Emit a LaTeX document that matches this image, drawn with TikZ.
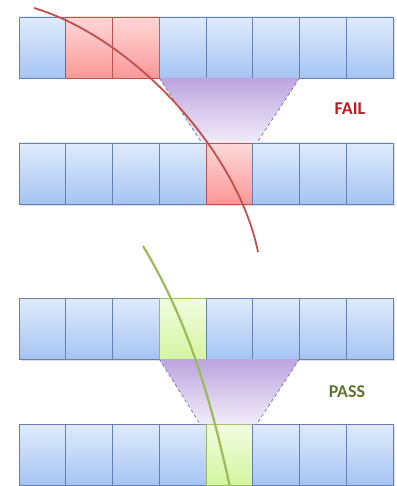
\documentclass[tikz,border=0pt]{standalone}
\usepackage{fontspec}
\setmainfont{Carlito}
\definecolor{bluetop}{RGB}{224,235,252}
\definecolor{bluebot}{RGB}{166,196,242}
\definecolor{blueborder}{RGB}{100,128,180}
\definecolor{redtop}{RGB}{254,216,216}
\definecolor{redbot}{RGB}{250,152,152}
\definecolor{redborder}{RGB}{192,80,77}
\definecolor{greentop}{RGB}{242,252,224}
\definecolor{greenbot}{RGB}{212,245,160}
\definecolor{greenborder}{RGB}{155,187,89}
\definecolor{trtop}{RGB}{188,164,222}
\definecolor{trbot}{RGB}{242,237,249}
\definecolor{trline}{RGB}{105,115,160}
\definecolor{failcol}{RGB}{185,30,30}
\definecolor{passcol}{RGB}{95,117,45}
\tikzset{
  cell/.style={draw=blueborder, line width=0.8pt, minimum width=46.75pt, minimum height=61pt,
    inner sep=0pt, outer sep=0pt, anchor=north west, top color=bluetop, bottom color=bluebot},
  redcell/.style={cell, draw=redborder, top color=redtop, bottom color=redbot},
  greencell/.style={cell, draw=greenborder, top color=greentop, bottom color=greenbot},
  rowshadow/.style={fill=black, opacity=0.12},
  funnel/.style={top color=trtop, bottom color=trbot, draw=none},
  funnelside/.style={draw=trline, dashed, line width=0.7pt},
  redcurve/.style={draw=redborder, line width=1.8pt},
  greencurve/.style={draw=greenborder, line width=2.2pt},
  verdict/.style={font=\bfseries\fontsize{18}{20}\selectfont, inner sep=0pt}
}
\begin{document}
\begin{tikzpicture}[x=1pt,y=-1pt]
\useasboundingbox (0,0) rectangle (396,486);
% shadows
\foreach \t in {17,143,298,424}
  \fill[rowshadow] (20.5,\t+2) rectangle (394.5,\t+62.5);
% rows
\foreach \i/\s in {1/cell,2/redcell,3/redcell,4/cell,5/cell,6/cell,7/cell,8/cell}
  \node[\s] (a\i) at ({19+(\i-1)*46.75},17) {};
\foreach \i/\s in {1/cell,2/cell,3/cell,4/cell,5/redcell,6/cell,7/cell,8/cell}
  \node[\s] (b\i) at ({19+(\i-1)*46.75},143) {};
\foreach \i/\s in {1/cell,2/cell,3/cell,4/greencell,5/cell,6/cell,7/cell,8/cell}
  \node[\s] (c\i) at ({19+(\i-1)*46.75},298) {};
\foreach \i/\s in {1/cell,2/cell,3/cell,4/cell,5/greencell,6/cell,7/cell,8/cell}
  \node[\s] (d\i) at ({19+(\i-1)*46.75},424) {};
% funnels
\coordinate (f1) at (a4.south west);
\coordinate (f2) at (a6.south east);
\coordinate (f3) at ([xshift=4pt]b5.north east);
\coordinate (f4) at ([xshift=-4pt]b5.north west);
\path[funnel] (f1) -- (f2) -- (f3) -- (f4) -- cycle;
\draw[funnelside] (f1) -- (f4);
\draw[funnelside] (f2) -- (f3);
\coordinate (g1) at (c4.south west);
\coordinate (g2) at (c6.south east);
\coordinate (g3) at ([xshift=4pt]d5.north east);
\coordinate (g4) at ([xshift=-6pt]d5.north west);
\path[funnel] (g1) -- (g2) -- (g3) -- (g4) -- cycle;
\draw[funnelside] (g1) -- (g4);
\draw[funnelside] (g2) -- (g3);
% labels
\node[verdict, text=failcol] (fail) at (350,109) {FAIL};
\node[verdict, text=passcol] (pass) at (347,392) {PASS};
% curves
\coordinate (rs) at (34,8);
\coordinate (re) at (258,252);
\draw[redcurve] (rs) .. controls (134,38) and (238,152) .. (re);
\coordinate (gs) at (143,246);
\coordinate (ge) at (230,487);
\draw[greencurve] (gs) .. controls (191,326) and (212,406) .. (ge);
\end{tikzpicture}
\end{document}
